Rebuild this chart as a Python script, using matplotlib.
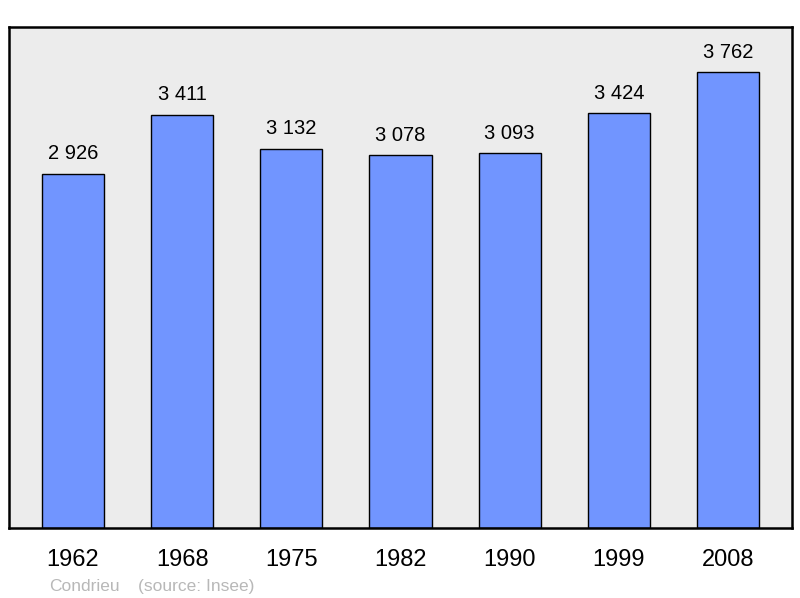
import matplotlib.pyplot as plt

years = ['1962', '1968', '1975', '1982', '1990', '1999', '2008']
population = [2926, 3411, 3132, 3078, 3093, 3424, 3762]
labels = ['2 926', '3 411', '3 132', '3 078', '3 093', '3 424', '3 762']

plt.rcParams['font.family'] = ['Liberation Sans', 'DejaVu Sans']

fig = plt.figure(figsize=(8, 5.98), dpi=100)
ax = fig.add_axes([0.01125, 0.117, 0.97875, 0.838])
ax.set_facecolor('#ececec')

x = range(len(years))
ax.bar(x, population, width=0.57, color='#7195ff', edgecolor='black', linewidth=1, zorder=2)
for i, v in enumerate(population):
    ax.text(i, v + 165, labels[i], ha='center', va='center', fontsize=14.5, color='black')

ax.set_xlim(-0.585, 6.585)
ax.set_ylim(0, 3762 * 1.1)
ax.set_yticks([])
ax.set_xticks(list(x))
ax.set_xticklabels(years, fontsize=17)
ax.tick_params(axis='x', length=0, pad=15)
for s in ax.spines.values():
    s.set_linewidth(1.8)

fig.text(0.061, 0.02, 'Condrieu', fontsize=12.5, color='#b8b8b8', ha='left', va='center')
fig.text(0.172, 0.02, '(source: Insee)', fontsize=12.5, color='#b8b8b8', ha='left', va='center')

fig.savefig('out.png', dpi=100)
